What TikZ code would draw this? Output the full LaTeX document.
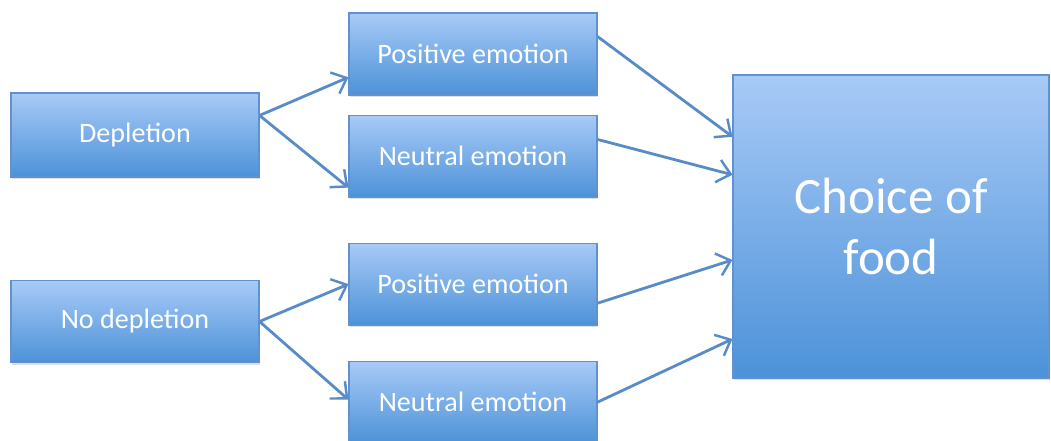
\documentclass[tikz,border=0pt]{standalone}
\usepackage{fontspec}
\setmainfont{Carlito}
\usepackage{xcolor}
\usetikzlibrary{arrows.meta, positioning, calc, shadows}

\definecolor{boxtop}{RGB}{168,202,247}
\definecolor{boxbot}{RGB}{76,146,216}
\definecolor{boxline}{RGB}{96,146,208}
\definecolor{arrowblue}{RGB}{88,140,200}

\begin{document}
\begin{tikzpicture}[
  block/.style={draw=boxline, line width=0.6pt, top color=boxtop, bottom color=boxbot,
    minimum width=4.96cm, minimum height=1.64cm, text=white, font=\fontsize{16}{19}\selectfont,
    drop shadow={opacity=0.25, shadow xshift=0.4pt, shadow yshift=-1.2pt}},
  bigblock/.style={block, minimum width=6.32cm, minimum height=6.06cm,
    font=\fontsize{29}{35}\selectfont, align=center},
  arrow/.style={-{Straight Barb[length=2.6mm, width=4.6mm, line width=1.4pt]}, line width=1.6pt, draw=arrowblue},
  node distance=0.38cm
]
  \useasboundingbox (0,0) rectangle (21.02,8.8);

  \node[block, minimum height=1.68cm] (dep) at (2.7,6.1) {Depletion};
  \node[block] (nodep) at (2.7,2.37) {No depletion};

  \node[block] (pos1) at (9.46,7.72) {Positive emotion};
  \node[block, below=of pos1] (neu1) {Neutral emotion};
  \node[block, below=0.9cm of neu1] (pos2) {Positive emotion};
  \node[block, below=0.7cm of pos2] (neu2) {Neutral emotion};

  \node[bigblock] (food) at (17.82,4.27) {Choice of\\food};

  % depletion branch
  \coordinate (depout) at ($(dep.north east)!0.27!(dep.south east)$);
  \draw[arrow] (depout) -- ($(pos1.north west)!0.78!(pos1.south west)$);
  \draw[arrow] (depout) -- ($(neu1.north west)!0.88!(neu1.south west)$);

  % no depletion branch
  \draw[arrow] (nodep.east) -- (pos2.west);
  \draw[arrow] (nodep.east) -- ($(neu2.north west)!0.47!(neu2.south west)$);

  % emotions to choice
  \draw[arrow] ($(pos1.north east)!0.29!(pos1.south east)$) -- ($(food.north west)!0.205!(food.south west)$);
  \draw[arrow] ($(neu1.north east)!0.30!(neu1.south east)$) -- ($(food.north west)!0.33!(food.south west)$);
  \draw[arrow] ($(pos2.north east)!0.73!(pos2.south east)$) -- ($(food.north west)!0.61!(food.south west)$);
  \draw[arrow] (neu2.east) -- ($(food.north west)!0.87!(food.south west)$);
\end{tikzpicture}
\end{document}
